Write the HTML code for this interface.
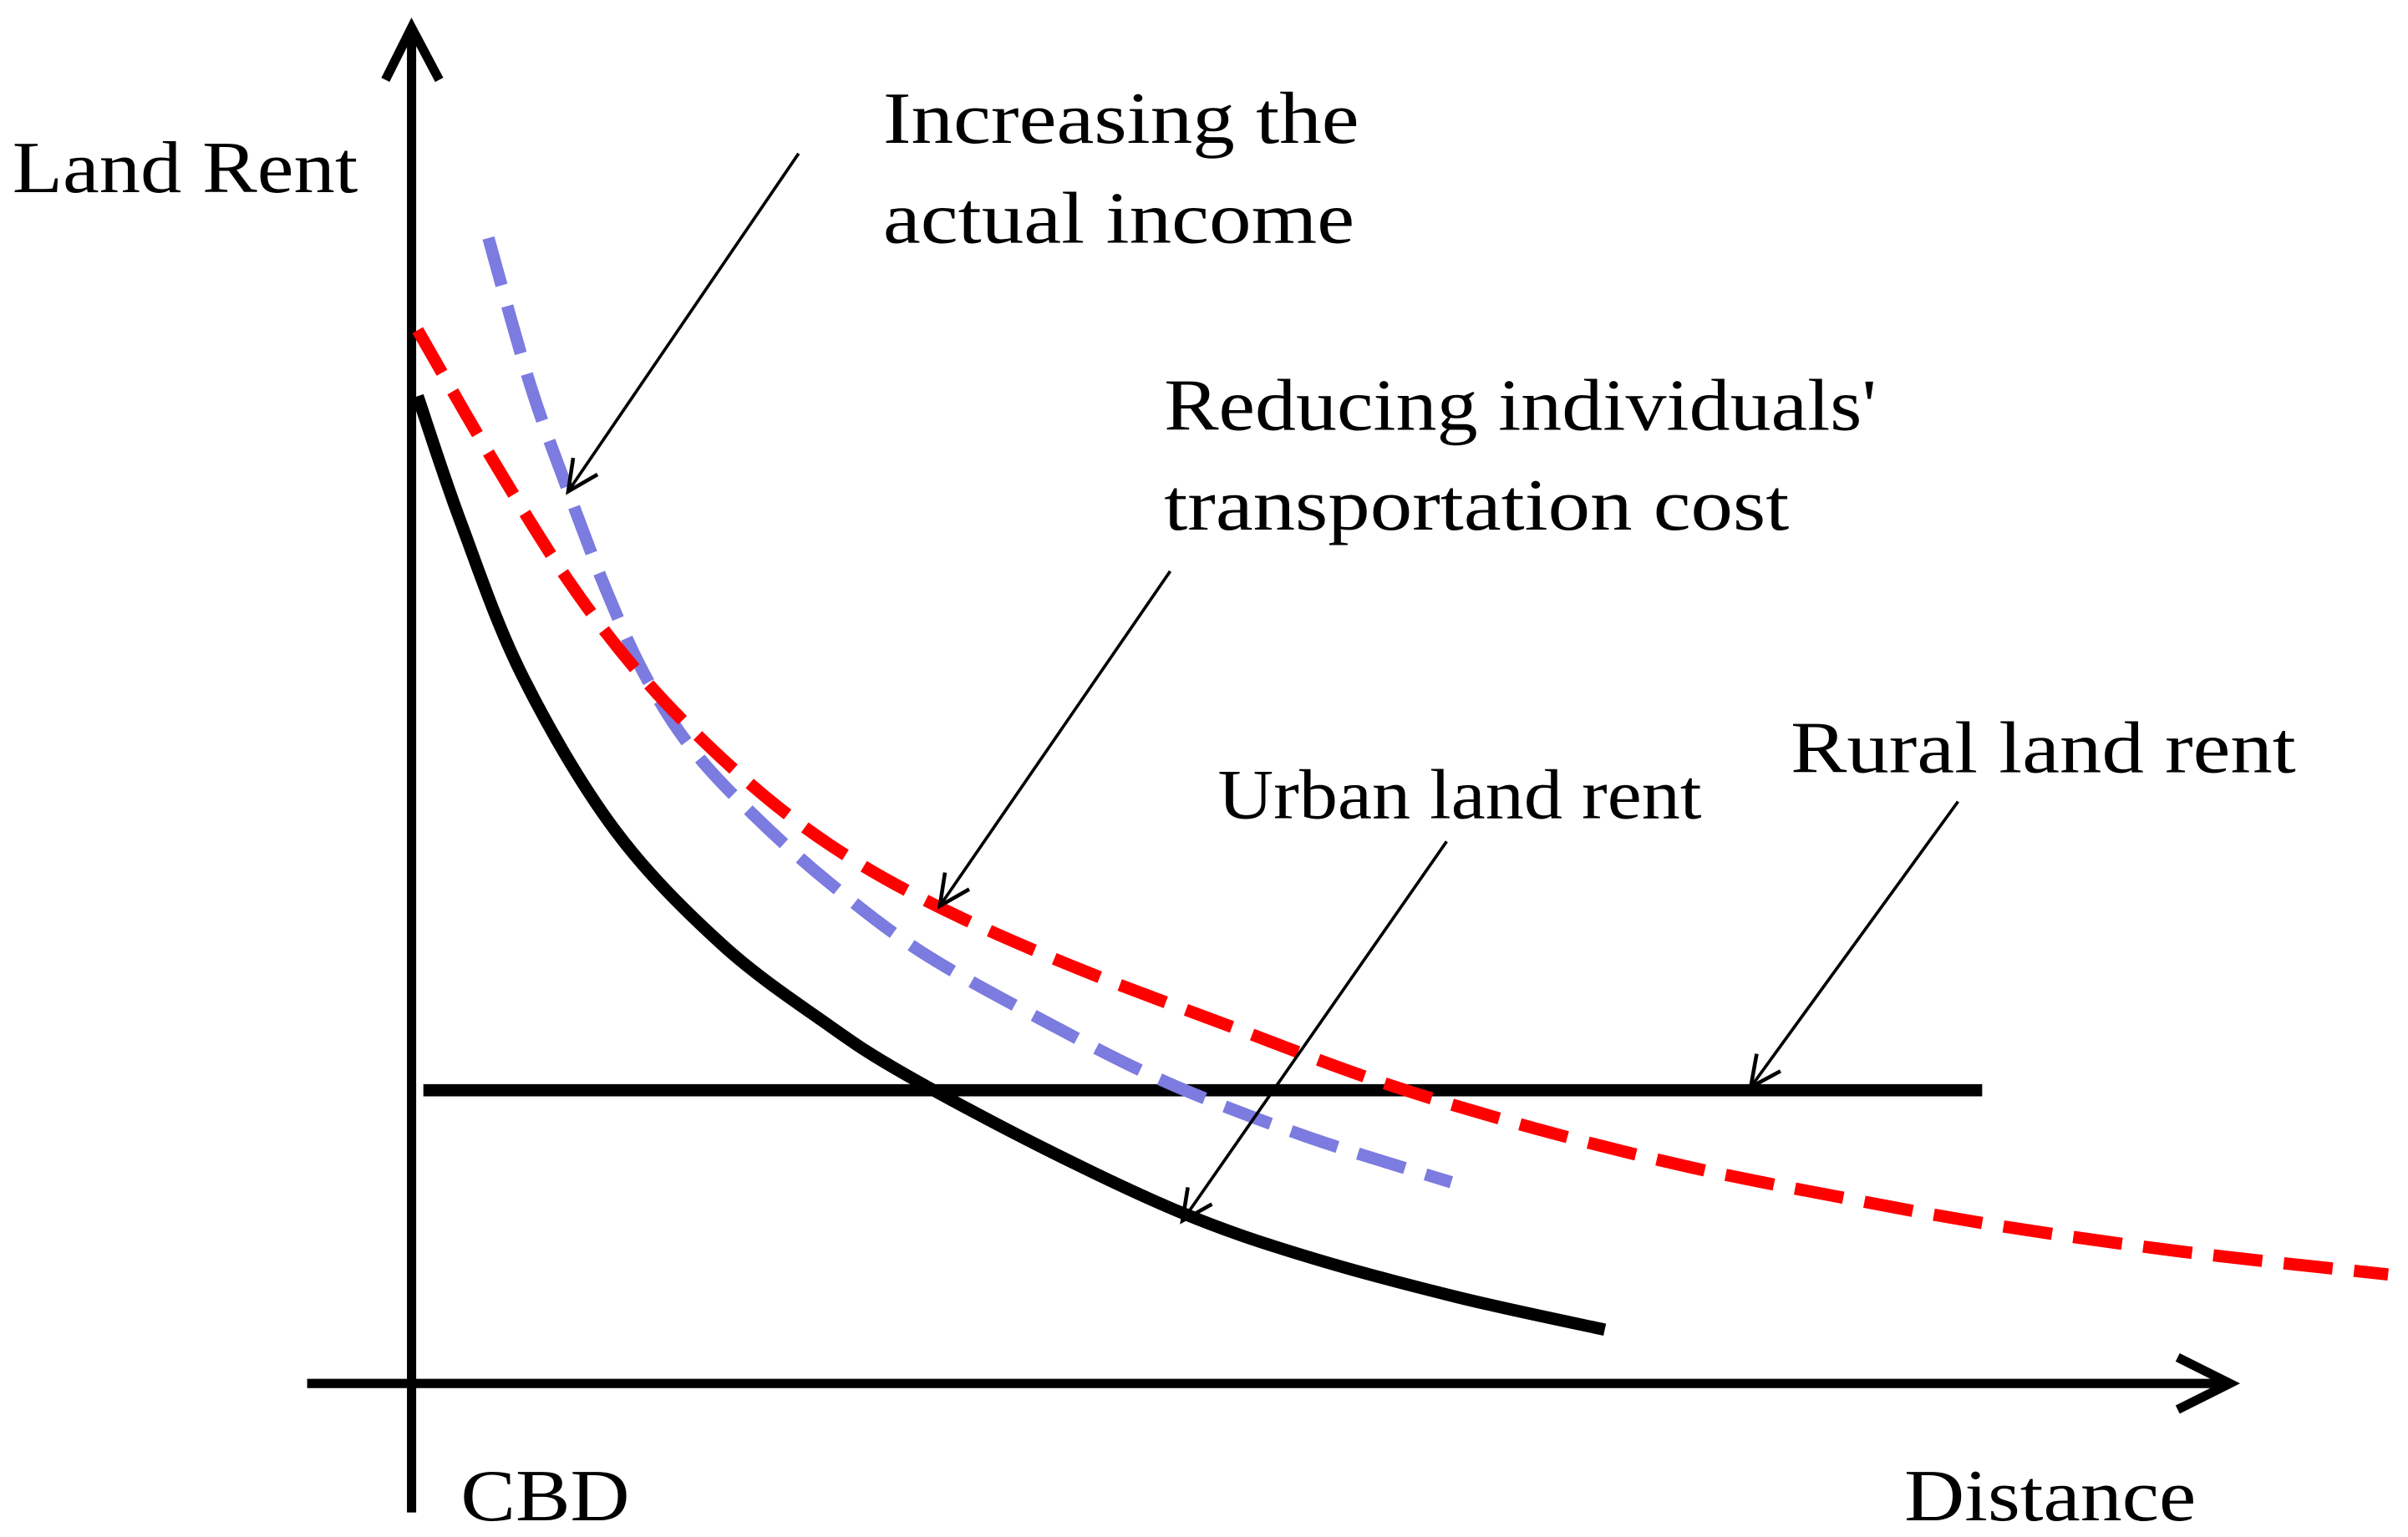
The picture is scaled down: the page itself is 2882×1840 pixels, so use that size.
<!DOCTYPE html>
<html><head><meta charset="utf-8"><style>
html,body{margin:0;padding:0;background:#fff;}
svg{display:block;}
text{font-family:"Liberation Serif",serif;fill:#000;}
</style></head><body>
<svg id="chart" width="2882" height="1840" viewBox="0 0 1568 1001" preserveAspectRatio="none" xmlns="http://www.w3.org/2000/svg">
<rect width="1568" height="1001" fill="#fff"/>
<g id="axes">
 <line x1="268" y1="985" x2="268" y2="20" stroke="#000" stroke-width="6"/>
 <polyline points="251,52 268,18 286,52" fill="none" stroke="#000" stroke-width="6"/>
 <line x1="200" y1="901" x2="1448" y2="901" stroke="#000" stroke-width="6"/>
 <polyline points="1418,884 1452,901 1418,918" fill="none" stroke="#000" stroke-width="6"/>
</g>
<g id="marks"></g>
<g id="annotations"></g>
<text x="8" y="125" font-size="48" textLength="225" lengthAdjust="spacingAndGlyphs">Land Rent</text>
<text x="300" y="990" font-size="48" textLength="110" lengthAdjust="spacingAndGlyphs">CBD</text>
<text x="1240" y="990" font-size="48" textLength="190" lengthAdjust="spacingAndGlyphs">Distance</text>
<text x="575" y="93" font-size="48" textLength="310" lengthAdjust="spacingAndGlyphs">Increasing the</text>
<text x="575" y="158" font-size="48" textLength="307" lengthAdjust="spacingAndGlyphs">actual income</text>
<text x="758" y="280" font-size="48" textLength="464" lengthAdjust="spacingAndGlyphs">Reducing individuals'</text>
<text x="758" y="345" font-size="48" textLength="407" lengthAdjust="spacingAndGlyphs">transportation cost</text>
<text x="793" y="533" font-size="46" textLength="315" lengthAdjust="spacingAndGlyphs">Urban land rent</text>
<text x="1166" y="503" font-size="48" textLength="329" lengthAdjust="spacingAndGlyphs">Rural land rent</text>
</svg>
<script>
// Data in abstract units: distance 0..100, rent 0..100
const urbanX = [0.31, 2.5, 5.63, 10.31, 15.78, 21.25, 25.16, 32.19, 39.22, 45.47, 53.28, 60.7];
const urbanY = [73.07, 63.75, 52.39, 41.02, 32.5, 26.48, 22.84, 17.39, 12.61, 9.43, 6.36, 3.98];
const transportX = [0.31, 4.06, 7.97, 11.88, 16.56, 21.25, 26.72, 33.75, 41.56, 49.38, 57.19, 65, 72.81, 80.63, 90, 100.55];
const transportY = [77.95, 68.52, 59.43, 52.05, 45.23, 39.89, 35.34, 30.8, 26.48, 22.27, 18.86, 16.02, 13.75, 11.7, 9.77, 8.07];
const incomeX = [3.91, 6.02, 7.97, 9.92, 11.88, 14.22, 17.34, 21.25, 25.94, 32.19, 38.44, 45.47, 52.89];
const incomeY = [84.77, 73.98, 66.02, 58.64, 52.39, 47.05, 42.16, 37.05, 31.93, 26.82, 22.27, 18.3, 14.89];
const ruralLevel = [21.7];
const ruralRange = [0.6, 79.9];

const NS = "http://www.w3.org/2000/svg";
function sx(v){ return 268 + v * 12.8; }
function sy(v){ return 901 - v * 8.8; }
function smoothPath(xs, ys){
  const p = xs.map((x,i)=>[sx(x), sy(ys[i])]);
  let d = "M" + p[0][0] + "," + p[0][1];
  for (let i=0;i<p.length-1;i++){
    const p0=p[i-1]||p[i], p1=p[i], p2=p[i+1], p3=p[i+2]||p2;
    const c1=[p1[0]+(p2[0]-p0[0])/6, p1[1]+(p2[1]-p0[1])/6];
    const c2=[p2[0]-(p3[0]-p1[0])/6, p2[1]-(p3[1]-p1[1])/6];
    d += " C"+c1[0]+","+c1[1]+" "+c2[0]+","+c2[1]+" "+p2[0]+","+p2[1];
  }
  return d;
}
const marks = document.getElementById("marks");

const rural = document.createElementNS(NS, "line");
rural.setAttribute("x1", sx(ruralRange[0])); rural.setAttribute("x2", sx(ruralRange[1]));
rural.setAttribute("y1", sy(ruralLevel[0])); rural.setAttribute("y2", sy(ruralLevel[0]));
rural.setAttribute("stroke", "#000"); rural.setAttribute("stroke-width", "8");


marks.appendChild(rural);

const urban = document.createElementNS(NS, "path");
urban.setAttribute("d", smoothPath(urbanX, urbanY));
urban.setAttribute("fill", "none"); urban.setAttribute("stroke", "#000"); urban.setAttribute("stroke-width", "8");


marks.appendChild(urban);

const income = document.createElementNS(NS, "path");
income.setAttribute("d", smoothPath(incomeX, incomeY));
income.setAttribute("fill", "none"); income.setAttribute("stroke", "#7b7be0"); income.setAttribute("stroke-width", "8");
income.setAttribute("stroke-dasharray", "32 14");


marks.appendChild(income);

const transport = document.createElementNS(NS, "path");
transport.setAttribute("d", smoothPath(transportX, transportY));
transport.setAttribute("fill", "none"); transport.setAttribute("stroke", "#ff0000"); transport.setAttribute("stroke-width", "8");
transport.setAttribute("stroke-dasharray", "32 14");


marks.appendChild(transport);

const arrows = [
  ["income-arrow", 520, 100, 370, 320],
  ["transport-arrow", 762, 372, 612, 590],
  ["urban-arrow", 942, 548, 770, 795],
  ["rural-arrow", 1275, 522, 1140, 708]
];
const ann = document.getElementById("annotations");
arrows.forEach(a=>{
  const g = document.createElementNS(NS, "g");
  
  
  const [n,x1,y1,x2,y2] = a;
  const l = document.createElementNS(NS, "line");
  l.setAttribute("x1",x1); l.setAttribute("y1",y1); l.setAttribute("x2",x2); l.setAttribute("y2",y2);
  l.setAttribute("stroke","#000"); l.setAttribute("stroke-width","2");
  g.appendChild(l);
  const ang = Math.atan2(y2-y1, x2-x1), L = 22, w = 0.45;
  const h = document.createElementNS(NS, "polyline");
  const pA = [x2 - L*Math.cos(ang-w), y2 - L*Math.sin(ang-w)];
  const pB = [x2 - L*Math.cos(ang+w), y2 - L*Math.sin(ang+w)];
  h.setAttribute("points", pA.join(",")+" "+x2+","+y2+" "+pB.join(","));
  h.setAttribute("fill","none"); h.setAttribute("stroke","#000"); h.setAttribute("stroke-width","2.5");
  g.appendChild(h);
  ann.appendChild(g);
});
</script>
</body></html>
